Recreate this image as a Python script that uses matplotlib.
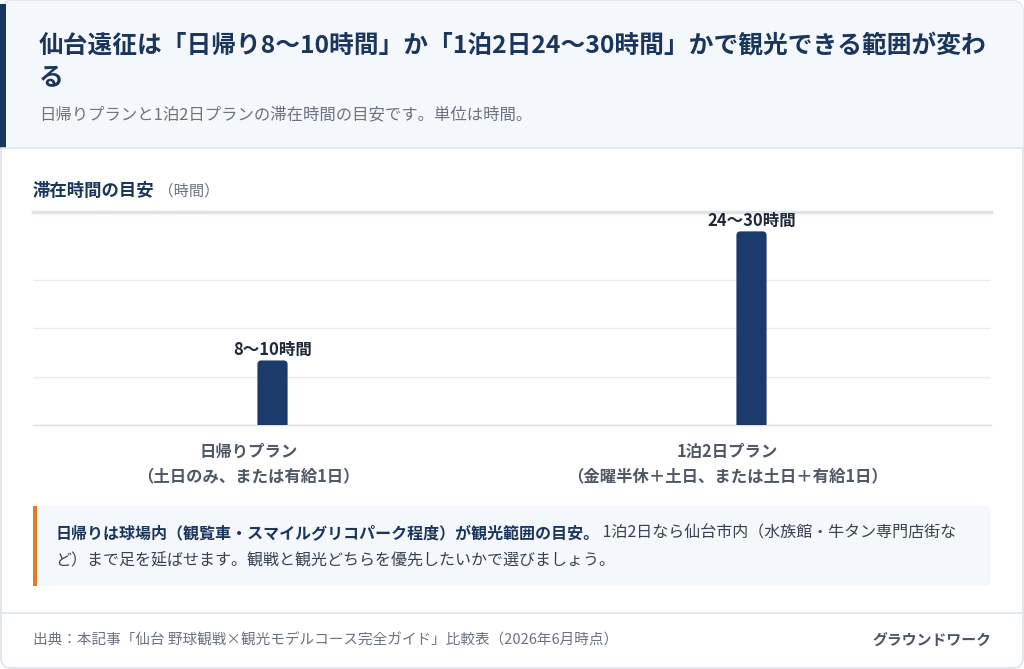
import matplotlib
matplotlib.use("Agg")
import matplotlib.pyplot as plt
import matplotlib.transforms as mtransforms
from matplotlib.patches import FancyBboxPatch, Rectangle

plt.rcParams['font.family'] = ['Noto Sans CJK JP', 'DejaVu Sans']

# data
plans = ['日帰りプラン\n（土日のみ、または有給1日）',
         '1泊2日プラン\n（金曜半休＋土日、または土日＋有給1日）']
hours_max = [10, 30]
value_labels = ['8〜10時間', '24〜30時間']
y_ticks = [0, 7.5, 15, 22.5]

title_lines = ['仙台遠征は「日帰り8〜10時間」か「1泊2日24〜30時間」かで観光できる範囲が変わ', 'る']
subtitle = '日帰りプランと1泊2日プランの滞在時間の目安です。単位は時間。'
note_bold = '日帰りは球場内（観覧車・スマイルグリコパーク程度）が観光範囲の目安。'
note_rest1 = '1泊2日なら仙台市内（水族館・牛タン専門店街な'
note_rest2 = 'ど）まで足を延ばせます。観戦と観光どちらを優先したいかで選びましょう。'
source = '出典：本記事「仙台 野球観戦×観光モデルコース完全ガイド」比較表（2026年6月時点）'
brand = 'グラウンドワーク'

NAVY = '#1b365d'
BAR = '#1c3a6b'
GRAY = '#6b7280'

W, H = 1024, 669
fig = plt.figure(figsize=(W / 100, H / 100), dpi=100)
fig.patch.set_facecolor('white')

# background layer in pixel coords (y down)
bg = fig.add_axes([0, 0, 1, 1])
bg.set_xlim(0, W)
bg.set_ylim(H, 0)
bg.axis('off')

bg.add_patch(FancyBboxPatch((1, 1), W - 2, H - 2, boxstyle='round,pad=0,rounding_size=10',
                            fc='white', ec='#dbe2ea', lw=1.2))
bg.add_patch(FancyBboxPatch((1, 1), W - 2, 147, boxstyle='round,pad=0,rounding_size=10',
                            fc='#f4f7fc', ec='none'))
bg.add_patch(Rectangle((1, 100), W - 2, 48, fc='#f4f7fc', ec='none'))
bg.plot([1, W - 1], [148, 148], color='#dde4ec', lw=1.2)
bg.add_patch(Rectangle((0, 4), 6, 144, fc=NAVY, ec='none'))

bg.text(39, 45, title_lines[0], fontsize=17.8, fontweight='bold', color=NAVY, va='center')
bg.text(39, 78, title_lines[1], fontsize=17.8, fontweight='bold', color=NAVY, va='center')
bg.text(39, 115, subtitle, fontsize=11.8, color=GRAY, va='center')

t = bg.text(33, 191, '滞在時間の目安', fontsize=12.5, fontweight='bold', color=NAVY, va='center')
bg.annotate(' （時間）', xy=(1, 0.5), xycoords=t, fontsize=11, color=GRAY, va='center')

# note box
bg.add_patch(FancyBboxPatch((33, 506), 958, 80, boxstyle='round,pad=0,rounding_size=6',
                            fc='#f4f7fc', ec='none'))
bg.add_patch(Rectangle((33, 506), 3.5, 80, fc='#e07b2a', ec='none'))
nb = bg.text(55, 533, note_bold, fontsize=11.5, fontweight='bold', color=NAVY, va='center')
bg.annotate(' ' + note_rest1, xy=(1, 0), xycoords=nb, fontsize=11.5, color='#374151', va='bottom')
bg.text(55, 561, note_rest2, fontsize=11.5, color='#374151', va='center')

# footer
bg.plot([1, W - 1], [613, 613], color='#dde4ec', lw=1.2)
bg.text(33, 640, source, fontsize=10.5, color=GRAY, va='center')
bg.text(991, 640, brand, fontsize=10.7, fontweight='bold', color='#4b5563', va='center', ha='right')

# chart
ax = fig.add_axes([33 / W, (H - 425) / H, 958 / W, 213 / H])
ax.set_facecolor('none')
ax.set_xlim(-0.5, 1.5)
ax.set_ylim(0, 33)
x = range(len(plans))
bars = ax.bar(x, hours_max, width=0.063, color=BAR, zorder=3)

# rounded tops (~4px); the patch starts below 0 so the lower corners are clipped away
px_x = 958 / 2.0          # px per x unit
px_y = 213 / 33.0         # px per y unit
r = 4 / px_x
aspect = px_x / px_y
for b in bars:
    b.set_visible(False)
    bx, bw, bh = b.get_x(), b.get_width(), b.get_height()
    ax.add_patch(FancyBboxPatch((bx, -1.5), bw, bh + 1.5, boxstyle=f'round,pad=0,rounding_size={r}',
                                mutation_aspect=aspect, fc=BAR, ec='none', zorder=3))

for xi, v, lab in zip(x, hours_max, value_labels):
    ax.annotate(lab, (xi, v), xytext=(0, 1), textcoords='offset points', ha='center', va='bottom',
                fontsize=11.9, fontweight='bold', color='#1f2937')
ax.set_yticks(y_ticks)
ax.yaxis.grid(True, color='#e6ebf2', lw=1)
ax.set_axisbelow(True)
ax.tick_params(axis='y', left=False, labelleft=False)
ax.set_xticks(list(x))
ax.set_xticklabels(plans, fontsize=11.8, color='#4f5865', linespacing=1.45, fontweight='bold')
ax.tick_params(axis='x', length=0, pad=13)
shift = mtransforms.ScaledTranslation(-24 / 100, 0, fig.dpi_scale_trans)
for lbl in ax.get_xticklabels():
    lbl.set_transform(lbl.get_transform() + shift)
for s in ['left', 'right']:
    ax.spines[s].set_visible(False)
ax.spines['top'].set_color('#dde3ec')
ax.spines['top'].set_linewidth(2.5)
ax.spines['bottom'].set_color('#d8dfe8')
ax.spines['bottom'].set_linewidth(1)

fig.savefig('out.png', dpi=100)
